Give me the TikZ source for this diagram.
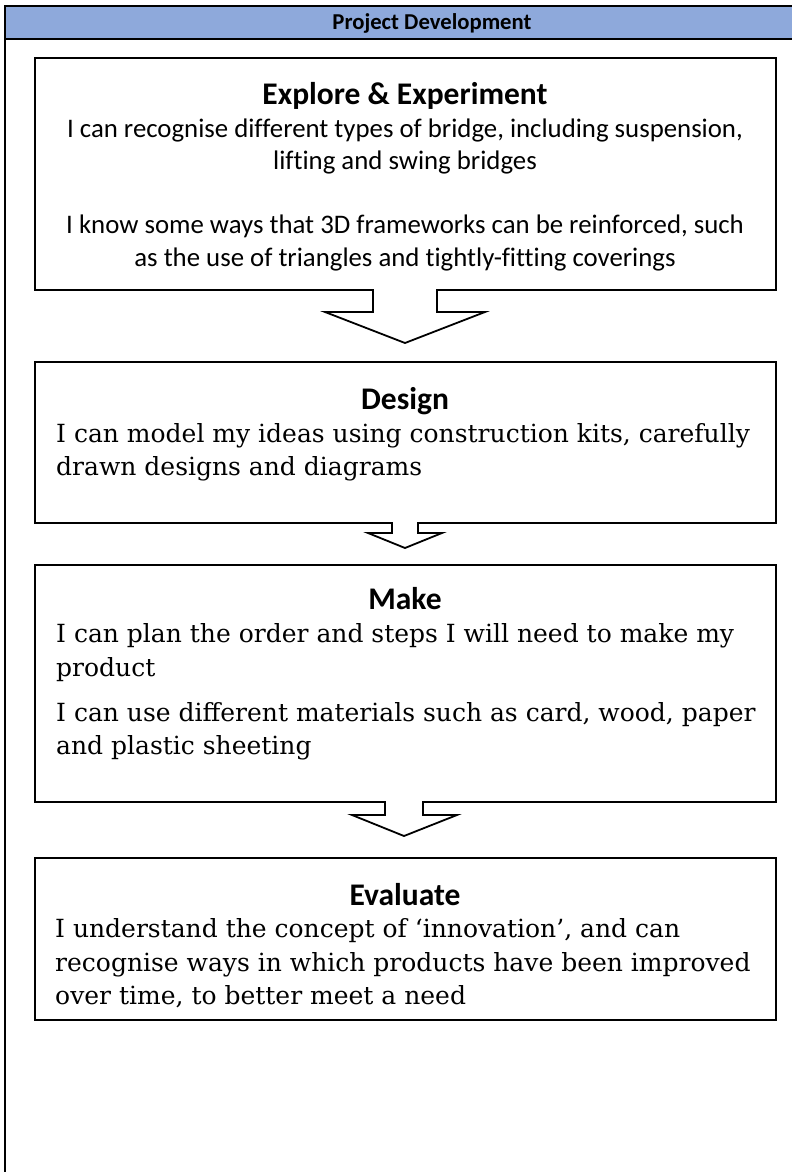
\documentclass[tikz,border=0pt]{standalone}
\usepackage{fontspec}
\setmainfont{Carlito}[Ligatures=NoCommon]
\newfontfamily\slab{DejaVu Serif}
\definecolor{hdrblue}{HTML}{8EA9DB}
\begin{document}
\begin{tikzpicture}[x=1pt,y=-1pt,
  frame/.style={line width=1.6pt,black},
  stagebox/.style={draw,line width=1.8pt},
  notch/.style={line width=1.8pt,line join=miter},
  heading/.style={font=\fontsize{31.5}{36}\selectfont\bfseries,anchor=base,inner sep=0pt},
  calbody/.style={font=\fontsize{26.8}{32}\selectfont,anchor=base,inner sep=0pt},
  slabbody/.style={font=\slab\fontsize{25}{30}\selectfont,anchor=base west,inner sep=0pt}]
\useasboundingbox (0,0) rectangle (792,1172);
% header
\fill[hdrblue] (5,6) rectangle (792,39);
\draw[frame] (792,6) -- (5,6) -- (5,1172);
\draw[frame] (5,39) -- (792,39);
\node[font=\fontsize{22.7}{27}\selectfont\bfseries,anchor=base,inner sep=0pt] (title) at (432,30) {Project Development};
% boxes
\draw[stagebox] (35,58) rectangle (776,290);
\draw[stagebox] (35,362) rectangle (776,523);
\draw[stagebox] (35,565) rectangle (776,802);
\draw[stagebox] (35,858) rectangle (776,1020);
% arrows
\fill[white] (374,286) rectangle (436,294);
\draw[notch] (373,290) -- (373,312) -- (325,312) -- (405,343) -- (485,312) -- (437,312) -- (437,290);
\fill[white] (393,519) rectangle (417,527);
\draw[notch] (392,523) -- (392,533) -- (368,533) -- (405,548) -- (442,533) -- (418,533) -- (418,523);
\fill[white] (386,798) rectangle (422,806);
\draw[notch] (385,802) -- (385,815) -- (352,815) -- (404,836) -- (457,815) -- (423,815) -- (423,802);
% box 1
\node[heading] (h1) at (405,104) {Explore \& Experiment};
\node[calbody] (t1a) at (405,137) {I can recognise different types of bridge, including suspension,};
\node[calbody] (t1b) at (405,169) {lifting and swing bridges};
\node[calbody] (t1c) at (405,233) {I know some ways that 3D frameworks can be reinforced, such};
\node[calbody] (t1d) at (405,266) {as the use of triangles and tightly-fitting coverings};
% box 2
\node[heading] (h2) at (405,409) {Design};
\node[slabbody] (t2a) at (56,442) {I can model my ideas using construction kits, carefully};
\node[slabbody] (t2b) at (56,475) {drawn designs and diagrams};
% box 3
\node[heading] (h3) at (405,609) {Make};
\node[slabbody] (t3a) at (56,642) {I can plan the order and steps I will need to make my};
\node[slabbody] (t3b) at (56,676) {product};
\node[slabbody] (t3c) at (56,721) {I can use different materials such as card, wood, paper};
\node[slabbody] (t3d) at (56,754) {and plastic sheeting};
% box 4
\node[heading] (h4) at (405,905) {Evaluate};
\node[slabbody] (t4a) at (55,937) {I understand the concept of ‘innovation’, and can};
\node[slabbody] (t4b) at (55,971) {recognise ways in which products have been improved};
\node[slabbody] (t4c) at (55,1004) {over time, to better meet a need};
\end{tikzpicture}
\end{document}
